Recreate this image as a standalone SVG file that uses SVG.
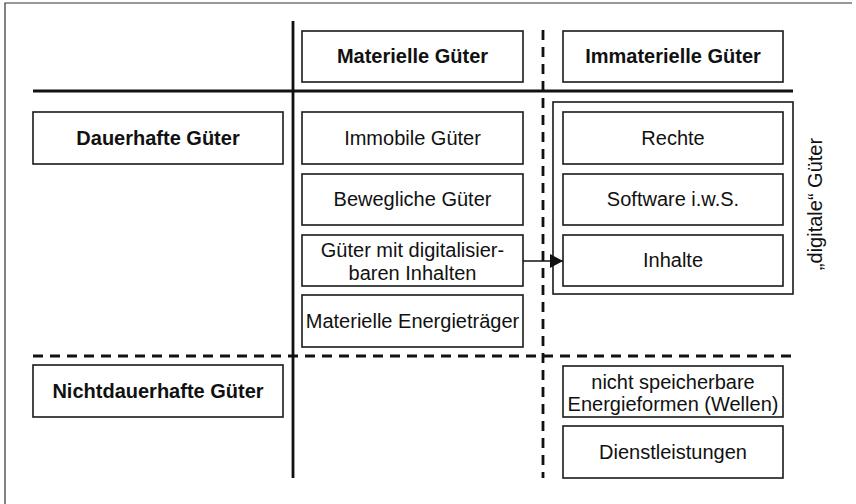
<svg xmlns="http://www.w3.org/2000/svg" width="856" height="504" viewBox="0 0 856 504">
<style>
.box{fill:#fff;stroke:#1a1a1a;stroke-width:1.6}
.t{font-family:"Liberation Sans",Arial,sans-serif;font-size:20px;fill:#111;text-anchor:middle}
.b{font-weight:bold}
.solid{stroke:#111;stroke-width:2.8;fill:none}
.dash{stroke:#111;stroke-width:2.8;fill:none;stroke-dasharray:10 7}
</style>
<defs>
<marker id="ah" viewBox="0 0 13 14" refX="13" refY="7" markerWidth="13" markerHeight="14" markerUnits="userSpaceOnUse" orient="auto">
<path d="M0,0 L13,7 L0,14 Z" fill="#111"/>
</marker>
</defs>
<g id="frame">
<path d="M5,504 V3 H852" fill="none" stroke="#333" stroke-width="1.2"/>
</g>
<g id="grid">
<line class="solid" x1="293" y1="21" x2="293" y2="478"/>
<line class="solid" x1="33" y1="91" x2="793" y2="91"/>
<line class="dash" x1="543" y1="30" x2="543" y2="478"/>
<line class="dash" x1="33" y1="356" x2="793" y2="356"/>
</g>
<g id="digital-group">
<rect class="box" x="553" y="102" width="240" height="192" fill="none"/>
<text class="t" transform="translate(815,204) rotate(-90)" x="0" y="7">„digitale“ Güter</text>
</g>
<g id="materielle-gueter"><rect class="box" x="302" y="31" width="221" height="51"/><text class="t b" x="412.5" y="63">Materielle Güter</text></g>
<g id="immaterielle-gueter"><rect class="box" x="563" y="31" width="220" height="51"/><text class="t b" x="673" y="63">Immaterielle Güter</text></g>
<g id="dauerhafte-gueter"><rect class="box" x="33" y="112" width="250" height="52"/><text class="t b" x="158" y="145">Dauerhafte Güter</text></g>
<g id="nichtdauerhafte-gueter"><rect class="box" x="33" y="365" width="250" height="52"/><text class="t b" x="158" y="398">Nichtdauerhafte Güter</text></g>
<g id="immobile-gueter"><rect class="box" x="302" y="112" width="221" height="52"/><text class="t" x="412.5" y="145">Immobile Güter</text></g>
<g id="bewegliche-gueter"><rect class="box" x="302" y="174" width="221" height="51"/><text class="t" x="412.5" y="206">Bewegliche Güter</text></g>
<g id="digitalisierbare-gueter"><rect class="box" x="302" y="235" width="221" height="51"/><text class="t" x="412.5" y="257">Güter mit digitalisier-</text><text class="t" x="412.5" y="280">baren Inhalten</text></g>
<g id="materielle-energietraeger"><rect class="box" x="302" y="295" width="221" height="52"/><text class="t" x="412.5" y="328">Materielle Energieträger</text></g>
<g id="rechte"><rect class="box" x="563" y="112" width="220" height="52"/><text class="t" x="673" y="145">Rechte</text></g>
<g id="software"><rect class="box" x="563" y="174" width="220" height="51"/><text class="t" x="673" y="206">Software i.w.S.</text></g>
<g id="inhalte"><rect class="box" x="563" y="235" width="220" height="51"/><text class="t" x="673" y="267">Inhalte</text></g>
<g id="energieformen"><rect class="box" x="563" y="366" width="220" height="51"/><text class="t" x="673" y="389">nicht speicherbare</text><text class="t" x="673" y="411">Energieformen (Wellen)</text></g>
<g id="dienstleistungen"><rect class="box" x="563" y="426" width="220" height="52"/><text class="t" x="673" y="459">Dienstleistungen</text></g>
<g id="connectors">
<line x1="523" y1="261" x2="563" y2="261" stroke="#111" stroke-width="1.4" marker-end="url(#ah)"/>
</g>
</svg>
